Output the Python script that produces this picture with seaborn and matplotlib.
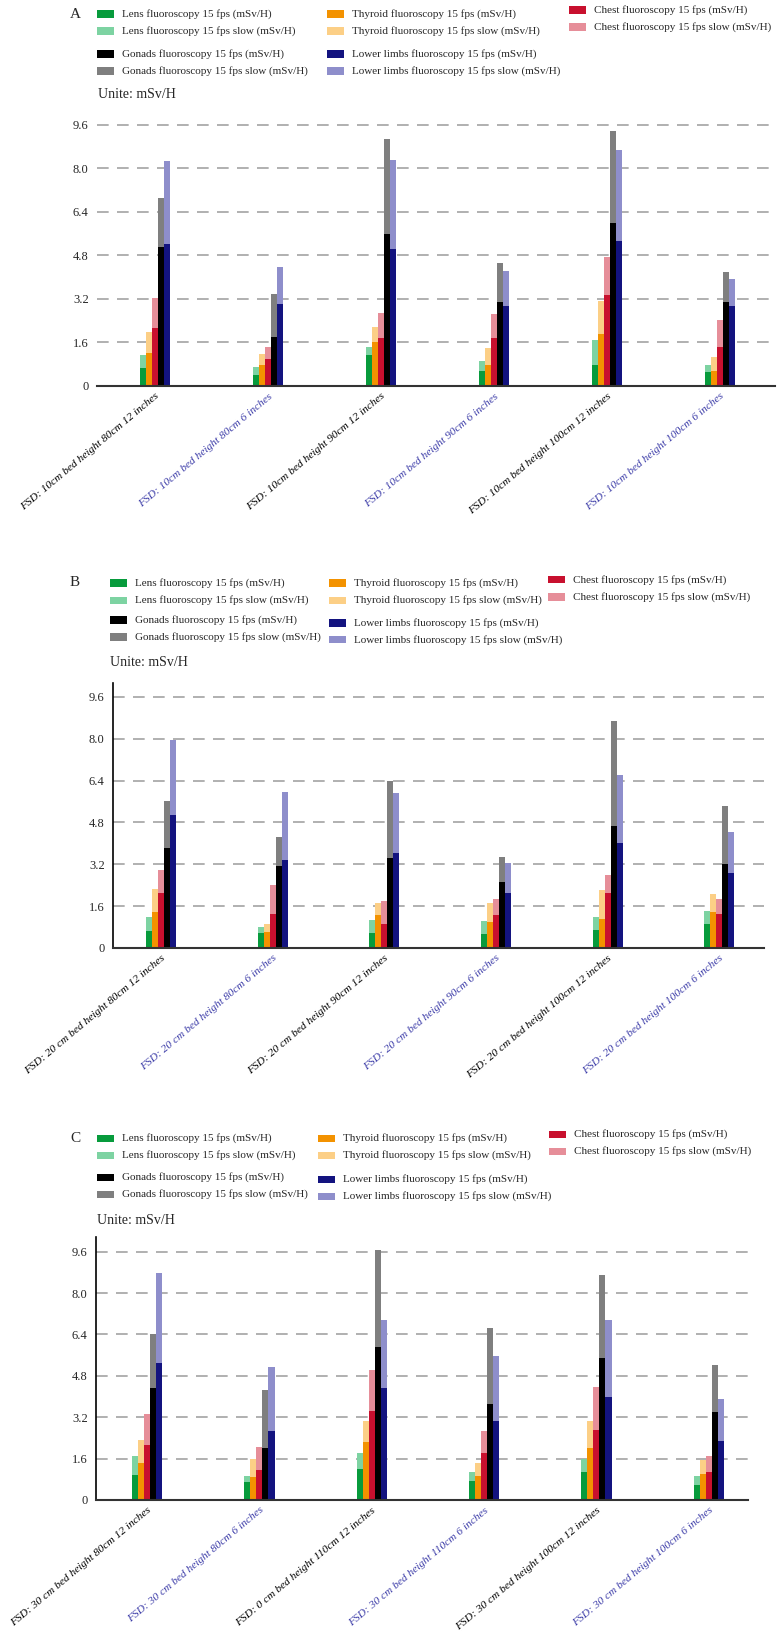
import pandas as pd
import matplotlib.pyplot as plt
from matplotlib.patches import Rectangle
import seaborn as sns

# ----------------------
# Data (mSv/H)
# ----------------------
organs = ["Lens", "Thyroid", "Chest", "Gonads", "Lower limbs"]
fast_colors = ["#079b3c", "#f39200", "#c8102e", "#000000", "#13137f"]
slow_colors = ["#7dd3a2", "#fccf86", "#e68e99", "#7f7f7f", "#8e8ecb"]

cond_a = ["FSD: 10cm bed height 80cm 12 inches", "FSD: 10cm bed height 80cm 6 inches",
          "FSD: 10cm bed height 90cm 12 inches", "FSD: 10cm bed height 90cm 6 inches",
          "FSD: 10cm bed height 100cm 12 inches", "FSD: 10cm bed height 100cm 6 inches"]
fast_a = {"Lens": [0.65, 0.42, 1.13, 0.54, 0.78, 0.52],
          "Thyroid": [1.21, 0.76, 1.60, 0.79, 1.92, 0.57],
          "Chest": [2.12, 0.98, 1.78, 1.75, 3.33, 1.45],
          "Gonads": [5.12, 1.80, 5.59, 3.09, 5.98, 3.09],
          "Lower limbs": [5.24, 3.03, 5.03, 2.93, 5.33, 2.93]}
slow_a = {"Lens": [1.15, 0.69, 1.45, 0.91, 1.68, 0.76],
          "Thyroid": [2.00, 1.18, 2.16, 1.40, 3.12, 1.06],
          "Chest": [3.22, 1.43, 2.68, 2.64, 4.75, 2.42],
          "Gonads": [6.93, 3.38, 9.07, 4.52, 9.36, 4.21],
          "Lower limbs": [8.26, 4.37, 8.32, 4.22, 8.69, 3.94]}

cond_b = ["FSD: 20 cm bed height 80cm 12 inches", "FSD: 20 cm bed height 80cm 6 inches",
          "FSD: 20 cm bed height 90cm 12 inches", "FSD: 20 cm bed height 90cm 6 inches",
          "FSD: 20 cm bed height 100cm 12 inches", "FSD: 20 cm bed height 100cm 6 inches"]
fast_b = {"Lens": [0.65, 0.57, 0.57, 0.54, 0.67, 0.90],
          "Thyroid": [1.39, 0.63, 1.25, 1.00, 1.11, 1.36],
          "Chest": [2.09, 1.29, 0.92, 1.25, 2.10, 1.29],
          "Gonads": [3.81, 3.13, 3.45, 2.52, 4.68, 3.22],
          "Lower limbs": [5.07, 3.35, 3.63, 2.09, 4.00, 2.88]}
slow_b = {"Lens": [1.18, 0.81, 1.08, 1.03, 1.18, 1.43],
          "Thyroid": [2.27, 0.92, 1.71, 1.72, 2.21, 2.07],
          "Chest": [2.98, 2.39, 1.78, 1.88, 2.80, 1.89],
          "Gonads": [5.61, 4.26, 6.38, 3.47, 8.66, 5.42],
          "Lower limbs": [7.96, 5.97, 5.93, 3.25, 6.60, 4.42]}

cond_c = ["FSD: 30 cm bed height 80cm 12 inches", "FSD: 30 cm bed height 80cm 6 inches",
          "FSD: 0 cm bed height 110cm 12 inches", "FSD: 30 cm bed height 110cm 6 inches",
          "FSD: 30 cm bed height 100cm 12 inches", "FSD: 30 cm bed height 100cm 6 inches"]
fast_c = {"Lens": [0.98, 0.70, 1.19, 0.73, 1.07, 0.58],
          "Thyroid": [1.42, 0.88, 2.26, 0.93, 2.02, 1.00],
          "Chest": [2.12, 1.15, 3.45, 1.82, 2.72, 1.07],
          "Gonads": [4.32, 2.02, 5.91, 3.73, 5.48, 3.39],
          "Lower limbs": [5.30, 2.65, 4.32, 3.06, 3.98, 2.29]}
slow_c = {"Lens": [1.70, 0.93, 1.80, 1.10, 1.57, 0.93],
          "Thyroid": [2.32, 1.59, 3.06, 1.43, 3.04, 1.55],
          "Chest": [3.31, 2.05, 5.01, 2.68, 4.38, 1.70],
          "Gonads": [6.42, 4.27, 9.65, 6.65, 8.69, 5.22],
          "Lower limbs": [8.79, 5.15, 6.97, 5.56, 6.97, 3.90]}

yticks = [0, 1.6, 3.2, 4.8, 6.4, 8.0, 9.6]
ytick_labels = ["0", "1.6", "3.2", "4.8", "6.4", "8.0", "9.6"]

# ----------------------
# Plotting
# ----------------------
sns.set_style("white")
plt.rcParams["font.family"] = ["Liberation Serif", "DejaVu Serif"]

W, H = 780, 1637
fig = plt.figure(figsize=(W / 100, H / 100), dpi=100)


def make_df(conds, fast, slow):
    rows = []
    for organ in organs:
        for i, c in enumerate(conds):
            rows.append({"cond": c, "organ": organ, "fast": fast[organ][i], "slow": slow[organ][i]})
    return pd.DataFrame(rows)


def legend_entry(x, y, color, label):
    fig.add_artist(Rectangle((x / W, 1 - (y + 3.5) / H), 17 / W, 7 / H,
                             transform=fig.transFigure, color=color, lw=0))
    fig.text((x + 25) / W, 1 - y / H, label, fontsize=8, va="center", ha="left")


def draw_panel(conds, fast, slow, box, xlim, ytop, letter, leg, unite_xy, left_spine):
    left, right, top, bottom = box
    ax = fig.add_axes([left / W, 1 - bottom / H, (right - left) / W, (bottom - top) / H])
    df = make_df(conds, fast, slow)
    sns.barplot(data=df, x="cond", y="slow", hue="organ", order=conds, hue_order=organs,
                palette=dict(zip(organs, slow_colors)), width=0.27, saturation=1,
                linewidth=0, errorbar=None, legend=False, ax=ax)
    sns.barplot(data=df, x="cond", y="fast", hue="organ", order=conds, hue_order=organs,
                palette=dict(zip(organs, fast_colors)), width=0.27, saturation=1,
                linewidth=0, errorbar=None, legend=False, ax=ax)
    ax.set_xlim(*xlim)
    ax.set_ylim(0, ytop)
    ax.set_yticks(yticks)
    ax.set_yticklabels(ytick_labels, fontsize=9)
    ax.yaxis.grid(True, linestyle=(0, (7, 5)), color="#a3a3a3", lw=1.2)
    ax.xaxis.grid(False)
    ax.set_axisbelow(True)
    ax.set_xlabel("")
    ax.set_ylabel("")
    ax.tick_params(axis="both", length=0)
    ax.tick_params(axis="y", pad=6)
    ax.tick_params(axis="x", pad=4)
    ax.set_xticks(range(len(conds)))
    ax.set_xticklabels(conds, rotation=40, ha="right", rotation_mode="anchor",
                       fontsize=8.2, style="italic")
    for i, t in enumerate(ax.get_xticklabels()):
        t.set_color("#000000" if i % 2 == 0 else "#3c3ca8")
    for s in ["top", "right"]:
        ax.spines[s].set_visible(False)
    ax.spines["bottom"].set_color("#333333")
    ax.spines["bottom"].set_linewidth(1.5)
    if left_spine:
        ax.spines["left"].set_color("#000000")
        ax.spines["left"].set_linewidth(1.2)
    else:
        ax.spines["left"].set_visible(False)

    # legend block and texts
    fig.text(letter[0] / W, 1 - letter[1] / H, letter[2], fontsize=11, va="center", ha="left")
    for organ, (x, y) in zip(organs, leg):
        k = organs.index(organ)
        legend_entry(x, y, fast_colors[k], organ + " fluoroscopy 15 fps (mSv/H)")
        legend_entry(x, y + 17, slow_colors[k], organ + " fluoroscopy 15 fps slow (mSv/H)")
    fig.text(unite_xy[0] / W, 1 - unite_xy[1] / H, "Unite: mSv/H", fontsize=10,
             va="center", ha="left")
    return ax


# Panel A
draw_panel(cond_a, fast_a, slow_a, box=(97, 775, 110, 386), xlim=(-0.513, 5.487), ytop=10.15,
           letter=(70, 15, "A"),
           leg=[(97, 14), (327, 14), (569, 10), (97, 54), (327, 54)],
           unite_xy=(98, 95), left_spine=False)

# Panel B
draw_panel(cond_b, fast_b, slow_b, box=(113, 764, 683, 948), xlim=(-0.43, 5.40), ytop=10.13,
           letter=(70, 583, "B"),
           leg=[(110, 583), (329, 583), (548, 580), (110, 620), (329, 623)],
           unite_xy=(110, 662), left_spine=True)

# Panel C
draw_panel(cond_c, fast_c, slow_c, box=(96, 748, 1237, 1500), xlim=(-0.454, 5.35), ytop=10.17,
           letter=(70, 1138, "C"),
           leg=[(97, 1138), (318, 1138), (549, 1134), (97, 1177), (318, 1179)],
           unite_xy=(97, 1221), left_spine=True)

plt.savefig("out.png", dpi=100)
